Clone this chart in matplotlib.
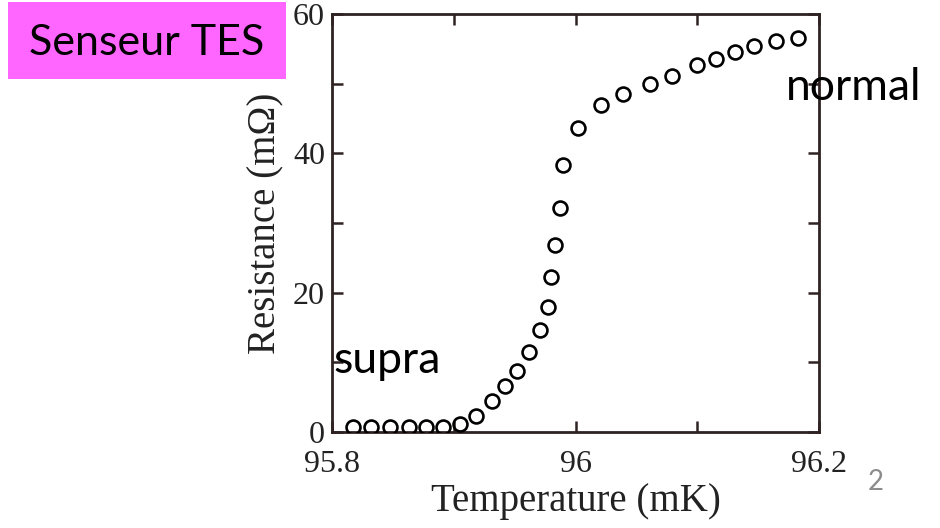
import numpy as np
import matplotlib
matplotlib.use('Agg')
import matplotlib.pyplot as plt
from matplotlib.patches import Rectangle

# resistance of the TES across its transition
temp_mK = [95.817, 95.832, 95.848, 95.863, 95.877, 95.891, 95.905, 95.918,
           95.931, 95.942, 95.952, 95.962, 95.971, 95.977, 95.980, 95.983,
           95.987, 95.990, 96.002, 96.021, 96.039, 96.061, 96.079, 96.100,
           96.115, 96.131, 96.147, 96.165, 96.183]
res_mOhm = [0.7, 0.7, 0.7, 0.7, 0.7, 0.7, 1.2, 2.3,
            4.5, 6.6, 8.8, 11.5, 14.7, 18.0, 22.2, 26.9,
            32.2, 38.3, 43.7, 46.9, 48.5, 50.0, 51.1, 52.7,
            53.6, 54.6, 55.4, 56.1, 56.6]

xticks = [95.8, 95.9, 96.0, 96.1, 96.2]
xticklabels = ['95.8', '', '96', '', '96.2']
yticks = [0, 10, 20, 30, 40, 50, 60]
yticklabels = ['0', '', '20', '', '40', '', '60']

serif = 'Liberation Serif'
sans = 'Lato'
spine_col = '#2e2222'

fig = plt.figure(figsize=(9.4, 5.28), dpi=100)
ax = fig.add_axes([0.3532, 0.1818, 0.5181, 0.7917])

ax.plot(temp_mK, res_mOhm, 'o', markersize=10, markerfacecolor='none',
        markeredgecolor='black', markeredgewidth=1.9, zorder=3)

ax.set_xlim(95.8, 96.2)
ax.set_ylim(0, 60)
ax.set_xticks(xticks)
ax.set_xticklabels(xticklabels)
ax.set_yticks(yticks)
ax.set_yticklabels(yticklabels)
for lab in ax.get_xticklabels() + ax.get_yticklabels():
    lab.set_fontfamily(serif)
    lab.set_fontsize(23)
    lab.set_color('#222222')

ax.tick_params(direction='in', length=8, width=1.8, color=spine_col,
               top=True, right=True)
ax.tick_params(axis='x', pad=13)
ax.tick_params(axis='y', pad=5)
for sp in ax.spines.values():
    sp.set_linewidth(2.0)
    sp.set_color(spine_col)

ax.set_xlabel('Temperature (mK)', fontfamily=serif, fontsize=28,
              color='#222222', labelpad=3)
ax.set_ylabel('Resistance (m\u03a9)', fontfamily=serif, fontsize=28,
              color='#222222', labelpad=6)

# title box and annotations
fig.patches.append(Rectangle((8 / 940, 1 - 79 / 528), 278 / 940, 77 / 528,
                             transform=fig.transFigure, facecolor='#ff66ff',
                             edgecolor='none', zorder=5))
fig.text(29 / 940, 1 - 55 / 528, 'Senseur TES', fontfamily=sans, fontsize=31,
         va='baseline', ha='left', color='black', zorder=6)
fig.text(333 / 940, 1 - 373 / 528, 'supra', fontfamily=sans, fontsize=32,
         va='baseline', ha='left', color='black', zorder=6)
fig.text(786 / 940, 1 - 100 / 528, 'normal', fontfamily=sans, fontsize=32,
         va='baseline', ha='left', color='black', zorder=6)
fig.text(868 / 940, 1 - 490 / 528, '2', fontfamily=sans, fontsize=20,
         va='baseline', ha='left', color='#8c8c8c', zorder=6)

fig.savefig('out.png', dpi=100)
